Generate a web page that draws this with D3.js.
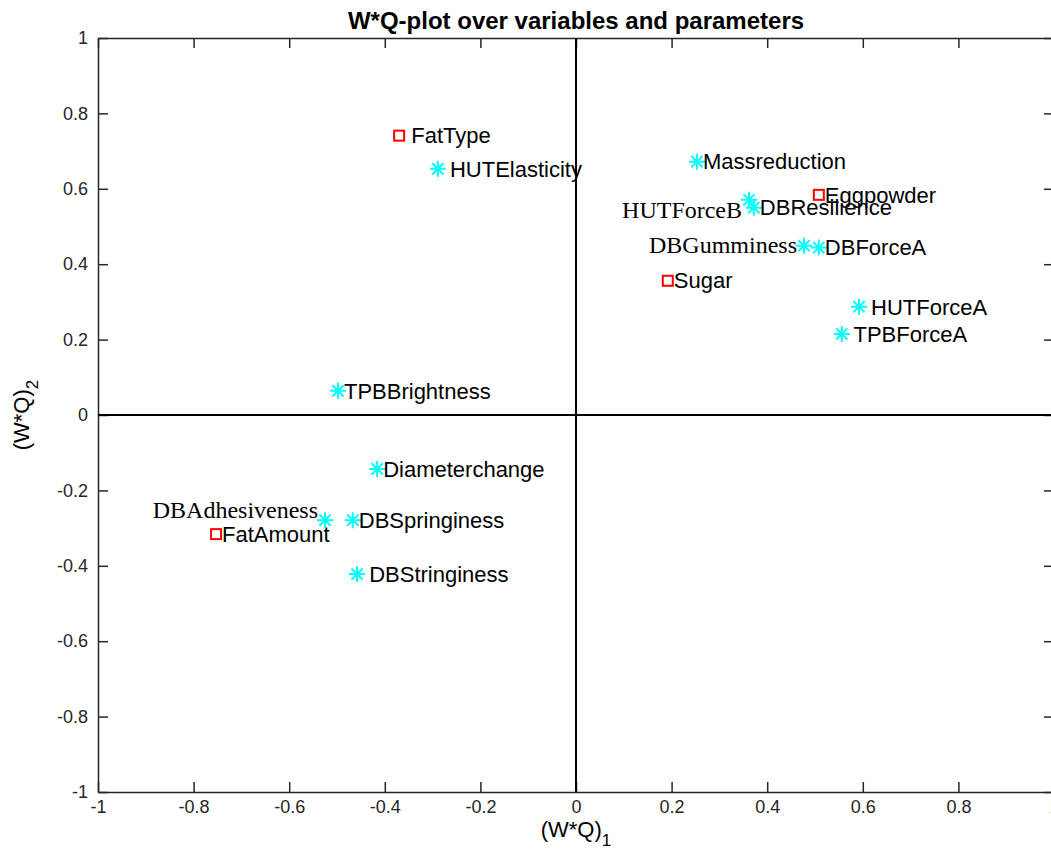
<!DOCTYPE html>
<html>
<head>
<meta charset="utf-8">
<script src="https://cdn.jsdelivr.net/npm/d3@7"></script>
<style>
    body { margin: 0; background: #fff; }
    svg { display: block; font-family: "Liberation Sans", Arial, sans-serif; }
    .axis path, .axis line { stroke: #262626; }
    .axis text { fill: #262626; font-size: 18px; }
    .serif-label { font-family: "Liberation Serif", "Times New Roman", serif; }
</style>
</head>
<body>
<svg id="wqChart"></svg>
<script>
    'use strict';

    // loadings
    const names = ['FatType', 'HUTElasticity', 'Massreduction', 'Eggpowder', 'HUTForceB',
        'DBResilience', 'DBGumminess', 'DBForceA', 'Sugar', 'HUTForceA', 'TPBForceA',
        'TPBBrightness', 'Diameterchange', 'DBAdhesiveness', 'DBSpringiness', 'FatAmount',
        'DBStringiness'];
    const wq1 = [-0.370, -0.289, 0.253, 0.508, 0.362, 0.372, 0.477, 0.508, 0.192, 0.592, 0.556,
        -0.498, -0.416, -0.525, -0.467, -0.753, -0.458];
    const wq2 = [0.741, 0.653, 0.672, 0.584, 0.571, 0.550, 0.449, 0.444, 0.356, 0.287, 0.215,
        0.064, -0.143, -0.279, -0.279, -0.316, -0.422];
    // design parameters get a square, responses an asterisk
    const parameters = ['FatType', 'Eggpowder', 'Sugar', 'FatAmount'];
    // labels written on the left side of their marker, with their vertical alignment
    const leftLabels = ['HUTForceB', 'DBGumminess', 'DBAdhesiveness'];
    const leftAlign = ['top', 'middle', 'bottom'];
    // labels that had a leading space in the original
    const spacedLabels = ['FatType', 'HUTElasticity', 'HUTForceA', 'TPBForceA', 'DBStringiness'];

    const xTickValues = [-1, -0.8, -0.6, -0.4, -0.2, 0, 0.2, 0.4, 0.6, 0.8, 1];
    const yTickValues = [-1, -0.8, -0.6, -0.4, -0.2, 0, 0.2, 0.4, 0.6, 0.8, 1];

    const title = 'W*Q-plot over variables and parameters';

    const W = 1051, H = 851;
    const margin = { top: 38, left: 98 };
    const width = 956, height = 754;

    const svg = d3.select('#wqChart').attr('width', W).attr('height', H);
    const chart = svg.append('g')
        .attr('transform', `translate(${margin.left}, ${margin.top})`);

    const xScale = d3.scaleLinear().domain([-1, 1]).range([0, width]);
    const yScale = d3.scaleLinear().domain([-1, 1]).range([height, 0]);
    const fmt = d => String(d);

    const axisStyle = g => g.attr('class', 'axis')
        .call(g => g.select('.domain').attr('stroke-width', 1.5))
        .call(g => g.selectAll('.tick line').attr('stroke-width', 1.5));

    chart.append('g')
        .attr('transform', `translate(0, ${height})`)
        .call(d3.axisBottom(xScale).tickValues(xTickValues).tickFormat(fmt)
            .tickSizeInner(-10).tickSizeOuter(0).tickPadding(8))
        .call(axisStyle);
    chart.append('g')
        .call(d3.axisTop(xScale).tickValues(xTickValues).tickFormat('')
            .tickSizeInner(-10).tickSizeOuter(0))
        .call(axisStyle);
    chart.append('g')
        .call(d3.axisLeft(yScale).tickValues(yTickValues).tickFormat(fmt)
            .tickSizeInner(-10).tickSizeOuter(0).tickPadding(10))
        .call(axisStyle);
    chart.append('g')
        .attr('transform', `translate(${width}, 0)`)
        .call(d3.axisRight(yScale).tickValues(yTickValues).tickFormat('')
            .tickSizeInner(-10).tickSizeOuter(0))
        .call(axisStyle);

    chart.selectAll('.axis').attr('font-family', null);

    // zero lines
    chart.append('line')
        .attr('x1', xScale(0)).attr('x2', xScale(0))
        .attr('y1', 0).attr('y2', height)
        .attr('stroke', '#000').attr('stroke-width', 2);
    chart.append('line')
        .attr('x1', 0).attr('x2', width)
        .attr('y1', yScale(0)).attr('y2', yScale(0))
        .attr('stroke', '#000').attr('stroke-width', 2);

    const points = names.map((name, i) => ({ name: name, x: wq1[i], y: wq2[i] }));

    const r = 8;
    const starPath = `M${-r},0L${r},0M0,${-r}L0,${r}` +
        `M${-r * 0.7},${-r * 0.7}L${r * 0.7},${r * 0.7}M${-r * 0.7},${r * 0.7}L${r * 0.7},${-r * 0.7}`;

    const marks = chart.append('g').selectAll('g')
        .data(points)
        .join('g')
        .attr('transform', d => `translate(${xScale(d.x)}, ${yScale(d.y)})`);

    marks.filter(d => parameters.includes(d.name))
        .append('rect')
        .attr('x', -5).attr('y', -5).attr('width', 10).attr('height', 10)
        .attr('fill', 'none').attr('stroke', '#ff0000').attr('stroke-width', 2);

    marks.filter(d => !parameters.includes(d.name))
        .append('path')
        .attr('d', starPath)
        .attr('fill', 'none').attr('stroke', '#00ffff').attr('stroke-width', 2);

    marks.filter(d => !leftLabels.includes(d.name))
        .append('text')
        .attr('x', 6)
        .attr('dy', '0.35em')
        .attr('xml:space', 'preserve')
        .style('white-space', 'pre')
        .attr('font-size', 22)
        .text(d => (spacedLabels.includes(d.name) ? ' ' : '') + d.name);

    const alignDy = { top: '0.75em', middle: '0.3em', bottom: '-0.1em' };
    marks.filter(d => leftLabels.includes(d.name))
        .append('text')
        .attr('class', 'serif-label')
        .attr('x', -7)
        .attr('dy', d => alignDy[leftAlign[leftLabels.indexOf(d.name)]])
        .attr('text-anchor', 'end')
        .attr('font-size', 24)
        .text(d => d.name);

    // title
    svg.append('text')
        .attr('x', margin.left + width / 2)
        .attr('y', 29)
        .attr('text-anchor', 'middle')
        .attr('font-weight', 'bold')
        .attr('font-size', 24)
        .text(title);

    // axis labels
    const xLabel = svg.append('text')
        .attr('x', margin.left + width / 2)
        .attr('y', 837)
        .attr('text-anchor', 'middle')
        .attr('font-size', 22);
    xLabel.append('tspan').text('(W*Q)');
    xLabel.append('tspan').attr('dy', 9).attr('font-size', 17).text('1');

    const yLabel = svg.append('text')
        .attr('transform', `translate(29, ${margin.top + height / 2}) rotate(-90)`)
        .attr('text-anchor', 'middle')
        .attr('font-size', 22);
    yLabel.append('tspan').text('(W*Q)');
    yLabel.append('tspan').attr('dy', 9).attr('font-size', 17).text('2');
</script>
</body>
</html>
